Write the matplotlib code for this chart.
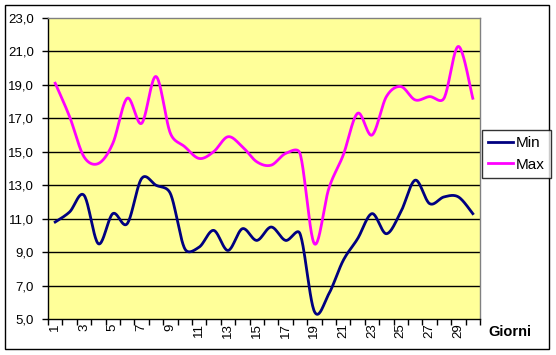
import numpy as np
import matplotlib
matplotlib.use("Agg")
from matplotlib import pyplot as plt
import matplotlib.patches as patches

plt.rcParams['font.family'] = ['Liberation Sans', 'DejaVu Sans']

giorni = np.arange(1, 31)
t_min = [10.8, 11.4, 12.4, 9.5, 11.3, 10.7, 13.4, 13.0, 12.5, 9.2,
         9.3, 10.3, 9.1, 10.4, 9.7, 10.5, 9.7, 10.1, 5.45, 6.5,
         8.5, 9.8, 11.3, 10.1, 11.4, 13.3, 11.9, 12.3, 12.3, 11.3]
t_max = [19.1, 17.1, 14.7, 14.3, 15.5, 18.2, 16.7, 19.5, 16.1, 15.3,
         14.6, 15.0, 15.9, 15.3, 14.4, 14.2, 14.9, 14.9, 9.5, 12.8,
         14.8, 17.3, 16.0, 18.3, 18.9, 18.1, 18.3, 18.2, 21.3, 18.2]
y_ticks = np.arange(5, 24, 2)


def smooth(ax, x, y, n=24):
    # excel style smoothed line, worked out in pixel space
    # (handles are 1/6 of the neighbour chord, but never more than half the segment)
    p = ax.transData.transform(np.column_stack([x, y]))
    p = np.vstack([p[0], p, p[-1]])
    t = np.linspace(0, 1, n, endpoint=False)[:, None]
    out = []
    for i in range(1, len(p) - 2):
        p0, p1, p2, p3 = p[i - 1], p[i], p[i + 1], p[i + 2]
        d12 = np.hypot(*(p2 - p1))
        d02 = np.hypot(*(p2 - p0))
        d13 = np.hypot(*(p3 - p1))
        f1 = 1 / 6 if d02 / 6 < d12 / 2 or d02 == 0 else d12 / (2 * d02)
        f2 = 1 / 6 if d13 / 6 < d12 / 2 or d13 == 0 else d12 / (2 * d13)
        b1 = p1 + (p2 - p0) * f1
        b2 = p2 - (p3 - p1) * f2
        out.append((1 - t) ** 3 * p1 + 3 * (1 - t) ** 2 * t * b1 + 3 * (1 - t) * t ** 2 * b2 + t ** 3 * p2)
    out.append(p[-1][None, :])
    d = ax.transData.inverted().transform(np.vstack(out))
    return d[:, 0], d[:, 1]


fig = plt.figure(figsize=(5.56, 3.55), dpi=100)
fig.patch.set_facecolor('white')
fig.patches.append(patches.Rectangle((5 / 556, 1 - 349 / 355), 544 / 556, 344 / 355,
                                     transform=fig.transFigure, fill=False,
                                     edgecolor='black', linewidth=1))

ax = fig.add_axes([48 / 556, 36 / 355, 432 / 556, 301 / 355])
ax.set_facecolor('#FFFF99')
ax.set_xlim(0.5, 30.5)
ax.set_ylim(5, 23)

for v in y_ticks[1:-1]:
    ax.axhline(v, color='black', linewidth=1, zorder=1)

sx, sy = smooth(ax, giorni, t_min)
ax.plot(sx, sy, color='#000080', linewidth=2, label='Min', zorder=3)
sx, sy = smooth(ax, giorni, t_max)
ax.plot(sx, sy, color='#FF00FF', linewidth=2, label='Max', zorder=3)

ax.set_yticks(y_ticks)
ax.set_yticklabels([('%.1f' % v).replace('.', ',') for v in y_ticks])

ax.set_xticks(np.arange(0.5, 31, 1))
ax.set_xticklabels([])
ax.set_xticks(giorni[::2], minor=True)
ax.set_xticklabels([str(g) for g in giorni[::2]], minor=True, rotation=90)
ax.tick_params(axis='x', which='minor', length=0, pad=3, labelsize=9.5)
ax.tick_params(axis='x', which='major', length=4, width=1, direction='out')
ax.tick_params(axis='y', length=4, width=1, direction='out', pad=6, labelsize=9.5)

ax.spines['top'].set_color('#808080')
ax.spines['right'].set_color('#808080')
for s in ax.spines.values():
    s.set_linewidth(1)

fig.text(510 / 556, 1 - 332 / 355, 'Giorni', fontsize=10.5, fontweight='bold',
         ha='center', va='center')

leg = fig.legend(loc='upper left', bbox_to_anchor=(482 / 556, 1 - 130 / 355),
                 frameon=True, fancybox=False, edgecolor='black', fontsize=11,
                 handlelength=1.6, handletextpad=0.2, borderpad=0.4,
                 labelspacing=0.5, borderaxespad=0)
leg.get_frame().set_linewidth(1)

fig.savefig('out.png', dpi=100)
